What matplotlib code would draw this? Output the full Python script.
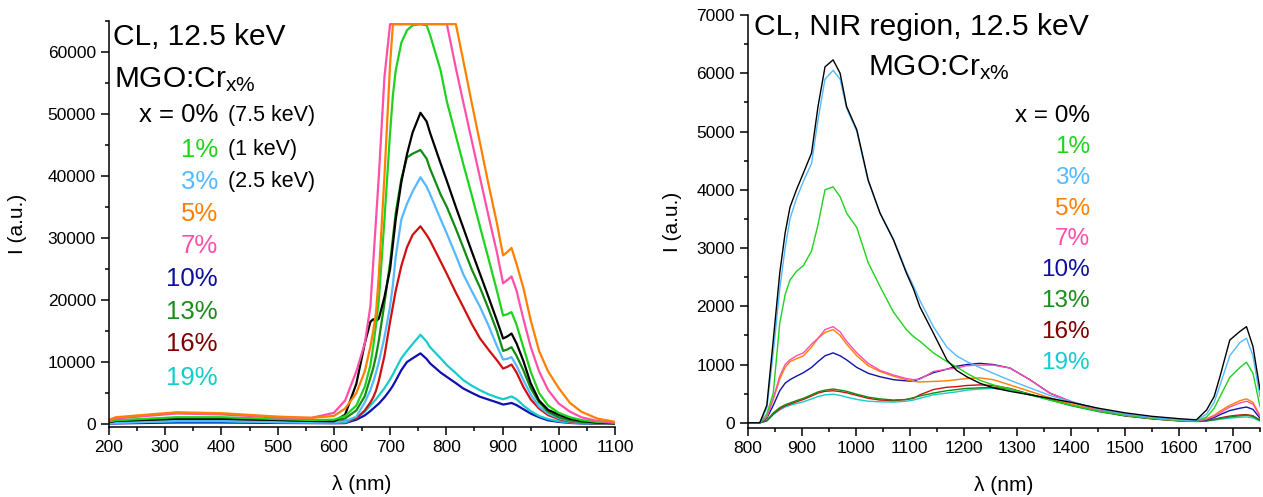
import matplotlib

matplotlib.use("Agg")
import matplotlib.pyplot as plt
from matplotlib.ticker import MultipleLocator

plt.rcParams.update(
    {
        "font.family": ["Liberation Sans", "DejaVu Sans"],
        "mathtext.fontset": "custom",
        "mathtext.rm": "Liberation Sans",
        "mathtext.it": "Liberation Sans:italic",
        "mathtext.bf": "Liberation Sans:bold",
        "axes.linewidth": 1.1,
    }
)

# ---- visible CL spectra (left) ----
wl_vis = [200, 212, 320, 400, 500, 560, 600, 620, 640, 655, 665, 670, 675, 680, 690,
          700, 705, 710, 720, 730, 740, 754, 765, 771, 790, 801, 817, 830, 845, 860,
          875, 890, 901, 908, 916, 925, 937, 950, 965, 981, 1000, 1020, 1040, 1068, 1100]

vis_0 = [300, 500, 850, 850, 650, 500, 450, 1500, 6500, 13000, 16500, 16900, 16600, 17000, 20500,
         25000, 29000, 33000, 39000, 43500, 47000, 50200, 48800, 47000, 42000, 39200, 35000, 31700, 27900, 24200,
         20500, 16700, 13800, 14100, 14600, 13000, 10200, 6600, 3800, 2300, 1500, 850, 500, 250, 120]
vis_1 = [400, 600, 1100, 1100, 800, 650, 700, 1300, 3000, 6000, 9500, 12500, 16000, 20000, 33000,
         47000, 53000, 57000, 61500, 63500, 64300, 64500, 64300, 62800, 57000, 52000, 46500, 42000, 37000, 31800,
         26700, 21500, 17500, 17700, 18050, 16000, 12400, 8500, 5000, 3000, 1800, 1100, 650, 350, 200]
vis_3 = [100, 200, 500, 500, 300, 250, 280, 450, 1200, 3500, 5500, 6800, 8300, 10000, 14000,
         19000, 22500, 27000, 33000, 35500, 37500, 39800, 38300, 37100, 33000, 30700, 27200, 24200, 21500, 18900,
         15900, 12600, 10400, 10500, 10800, 9400, 7100, 4800, 2800, 1700, 950, 500, 300, 150, 80]
vis_5 = [700, 1100, 1900, 1750, 1200, 1000, 1300, 2500, 5000, 8500, 12500, 15000, 18000, 24000, 40000,
         58000, 64500, 64500, 64500, 64500, 64500, 64500, 64500, 64500, 64500, 64500, 64500, 58700, 51900, 45300,
         38700, 32400, 27200, 27700, 28400, 25800, 22000, 16800, 11800, 8500, 5800, 3400, 2000, 900, 350]
vis_7 = [600, 900, 1700, 1550, 1050, 1000, 1800, 3800, 8500, 13000, 19000, 26000, 33000, 40000, 56000,
         64500, 64500, 64500, 64500, 64500, 64500, 64500, 64500, 64500, 64500, 64500, 57400, 52000, 45800, 39700,
         33600, 27700, 22700, 23200, 23800, 21500, 17000, 12500, 8500, 5500, 3300, 2000, 1100, 500, 250]
vis_10 = [50, 100, 250, 250, 180, 150, 130, 150, 700, 1400, 2100, 2500, 2900, 3300, 4300,
          5500, 6200, 7000, 8700, 10000, 10600, 11400, 10500, 9800, 8300, 7600, 6600, 5750, 5050, 4400,
          3950, 3500, 3150, 3250, 3400, 3050, 2400, 1700, 1100, 600, 350, 180, 100, 50, 30]
vis_13 = [350, 550, 950, 950, 700, 550, 500, 900, 2200, 4500, 7500, 9000, 11000, 13500, 19500,
          26000, 30000, 34000, 39500, 43000, 43600, 44200, 42800, 41200, 37000, 35000, 31500, 28500, 25000, 22000,
          18600, 15000, 11800, 12000, 12400, 11000, 8700, 5800, 3500, 2000, 1100, 600, 350, 180, 100]
vis_16 = [150, 300, 650, 650, 450, 350, 300, 500, 900, 2200, 3500, 4300, 5400, 7000, 11000,
          16500, 19000, 21500, 25500, 28500, 30500, 31900, 30500, 29600, 26200, 24200, 21200, 18900, 16200, 13800,
          12000, 10300, 8950, 9200, 9600, 8300, 6000, 4000, 2500, 1450, 800, 400, 250, 100, 50]
vis_19 = [100, 200, 450, 450, 300, 250, 200, 250, 1000, 2000, 3000, 3500, 4000, 4600, 5800,
          7200, 8000, 8900, 10600, 11800, 12900, 14400, 13300, 12400, 10600, 9500, 8200, 7100, 6200, 5450,
          4800, 4300, 4000, 4200, 4450, 4000, 3000, 2100, 1300, 800, 450, 250, 150, 80, 50]

# ---- NIR CL spectra (right) ----
wl_nir = [800, 822, 835, 847, 859, 869, 878, 890, 903, 918, 930, 943, 958, 971, 983,
          1002, 1023, 1045, 1070, 1094, 1107, 1119, 1144, 1169, 1187, 1206, 1230, 1255, 1286, 1323,
          1360, 1400, 1450, 1500, 1550, 1600, 1632, 1651, 1665, 1676, 1694, 1713, 1725, 1737, 1750]

nir_0 = [0, 0, 300, 1420, 2570, 3260, 3700, 4000, 4290, 4630, 5430, 6110, 6230, 6000, 5430,
         5030, 4170, 3600, 3140, 2570, 2300, 1990, 1540, 1080, 900, 790, 680, 600, 540, 480,
         420, 350, 250, 170, 110, 70, 50, 220, 450, 800, 1420, 1570, 1650, 1310, 570]
nir_1 = [0, 0, 150, 510, 1710, 2200, 2450, 2600, 2700, 2950, 3400, 4000, 4050, 3880, 3600,
         3350, 2750, 2340, 1900, 1600, 1480, 1400, 1200, 1050, 960, 850, 730, 650, 580, 480,
         390, 300, 200, 130, 80, 40, 30, 100, 250, 450, 780, 950, 1040, 850, 280]
nir_3 = [0, 0, 250, 1200, 2300, 3000, 3500, 3850, 4150, 4450, 5200, 5900, 6050, 5900, 5400,
         5000, 4150, 3600, 3150, 2600, 2350, 2100, 1650, 1300, 1150, 1050, 950, 850, 730, 600,
         470, 360, 240, 150, 90, 50, 40, 150, 350, 650, 1150, 1380, 1450, 1150, 450]
nir_5 = [0, 0, 100, 400, 750, 950, 1050, 1100, 1150, 1300, 1450, 1550, 1600, 1500, 1350,
         1150, 980, 880, 800, 740, 710, 700, 710, 720, 740, 760, 770, 740, 650, 540,
         430, 320, 210, 130, 80, 40, 30, 70, 130, 200, 300, 380, 410, 350, 120]
nir_7 = [0, 0, 100, 420, 800, 1000, 1080, 1150, 1200, 1350, 1450, 1600, 1650, 1560, 1400,
         1200, 1020, 900, 820, 760, 740, 750, 880, 920, 940, 980, 990, 990, 940, 740,
         510, 365, 220, 130, 80, 40, 30, 60, 110, 170, 270, 340, 370, 320, 110]
nir_10 = [0, 0, 80, 300, 550, 680, 740, 800, 860, 950, 1050, 1150, 1200, 1150, 1080,
          950, 850, 790, 740, 720, 710, 760, 860, 920, 970, 1000, 1020, 1000, 940, 740,
          510, 360, 220, 130, 80, 40, 30, 50, 90, 140, 210, 250, 270, 230, 80]
nir_13 = [0, 0, 40, 170, 260, 310, 340, 380, 420, 480, 530, 560, 580, 560, 540,
          490, 440, 410, 390, 400, 430, 460, 510, 550, 570, 590, 600, 610, 580, 490,
          400, 300, 200, 120, 70, 35, 25, 35, 55, 75, 100, 120, 130, 110, 40]
nir_16 = [0, 0, 35, 150, 240, 290, 320, 360, 400, 460, 510, 540, 550, 535, 515,
          470, 420, 390, 380, 400, 420, 480, 570, 610, 620, 640, 650, 640, 590, 490,
          400, 300, 200, 120, 70, 35, 25, 35, 60, 85, 115, 135, 140, 120, 45]
nir_19 = [0, 0, 30, 140, 220, 270, 300, 330, 360, 410, 450, 480, 490, 470, 440,
          400, 370, 360, 355, 370, 390, 420, 480, 510, 530, 560, 580, 590, 560, 480,
          390, 290, 190, 115, 65, 30, 20, 30, 45, 60, 80, 95, 100, 85, 30]

conc = ["0%", "1%", "3%", "5%", "7%", "10%", "13%", "16%", "19%"]
line_colors = ["#000000", "#1ED21E", "#55B9FF", "#FF7F00", "#FF4FAA",
               "#1010B0", "#118C11", "#D01010", "#14CCCC"]
label_colors = ["#000000", "#1ED21E", "#55B9FF", "#FF7F00", "#FF4FAA",
                "#0E0EA0", "#1A8C1A", "#800000", "#14CCCC"]
notes = ["(7.5 keV)", "(1 keV)", "(2.5 keV)"]

vis = [vis_0, vis_1, vis_3, vis_5, vis_7, vis_10, vis_13, vis_16, vis_19]
nir = [nir_0, nir_1, nir_3, nir_5, nir_7, nir_10, nir_13, nir_16, nir_19]

fig = plt.figure(figsize=(12.63, 4.97), dpi=100)
ax1 = fig.add_axes([0.0863, 0.1408, 0.4006, 0.8169])
ax2 = fig.add_axes([0.5922, 0.1388, 0.4054, 0.8310])

# draw order so the top curves look like the original
order_vis = [5, 8, 7, 2, 6, 0, 1, 4, 3]
for i in order_vis:
    ax1.plot(wl_vis, vis[i], color=line_colors[i], lw=1.6)
order_nir = [8, 7, 6, 5, 3, 4, 1, 2, 0]
for i in order_nir:
    ax2.plot(wl_nir, nir[i], color=line_colors[i], lw=1.0)

ax1.set_xlim(200, 1100)
ax1.set_ylim(-480, 65000)
ax1.xaxis.set_major_locator(MultipleLocator(100))
ax1.xaxis.set_minor_locator(MultipleLocator(50))
ax1.yaxis.set_major_locator(MultipleLocator(10000))
ax1.yaxis.set_minor_locator(MultipleLocator(5000))

ax2.set_xlim(800, 1750)
ax2.set_ylim(-90, 7000)
ax2.xaxis.set_major_locator(MultipleLocator(100))
ax2.xaxis.set_minor_locator(MultipleLocator(50))
ax2.yaxis.set_major_locator(MultipleLocator(1000))
ax2.yaxis.set_minor_locator(MultipleLocator(500))

for ax in (ax1, ax2):
    ax.spines["top"].set_visible(False)
    ax.spines["right"].set_visible(False)
    ax.tick_params(which="major", direction="out", length=6, width=1.1, labelsize=12.5)
    ax.tick_params(which="minor", direction="out", length=3, width=1.1)
    ax.set_xlabel("λ (nm)", fontsize=15, labelpad=14)
ax1.set_ylabel("I (a.u.)", fontsize=15, labelpad=15)
ax2.set_ylabel("I (a.u.)", fontsize=15, labelpad=10)

# left annotations
ax1.text(0.008, 0.961, "CL, 12.5 keV", transform=ax1.transAxes, fontsize=21.5, va="center", ha="left")
ax1.text(0.010, 0.837, "MGO:Cr$_{\\mathrm{x\\%}}$", transform=ax1.transAxes, fontsize=21.5,
         va="baseline", ha="left")
rows_l = [115, 149.5, 181.5, 214, 246, 279, 311.5, 344, 377.5]
for k, (lab, col) in enumerate(zip(conc, label_colors)):
    y = (427 - rows_l[k]) / 406
    txt = "x = " + lab if k == 0 else lab
    ax1.text(0.2154, y, txt, transform=ax1.transAxes, fontsize=18.5, color=col, ha="right", va="center")
    if k < len(notes):
        ax1.text(0.235, y, notes[k], transform=ax1.transAxes, fontsize=15.5, ha="left", va="center")

# right annotations
ax2.text(0.012, 0.971, "CL, NIR region, 12.5 keV", transform=ax2.transAxes, fontsize=21.7,
         va="center", ha="left")
ax2.text(0.234, 0.855, "MGO:Cr$_{\\mathrm{x\\%}}$", transform=ax2.transAxes, fontsize=21.5,
         va="baseline", ha="left")
rows_r = [116, 147, 177.5, 209, 239, 270, 301, 332, 363]
for k, (lab, col) in enumerate(zip(conc, label_colors)):
    y = (428 - rows_r[k]) / 413
    txt = "x = " + lab if k == 0 else lab
    ax2.text(0.668, y, txt, transform=ax2.transAxes, fontsize=17.5, color=col, ha="right", va="center")

fig.savefig("out.png", dpi=100)
